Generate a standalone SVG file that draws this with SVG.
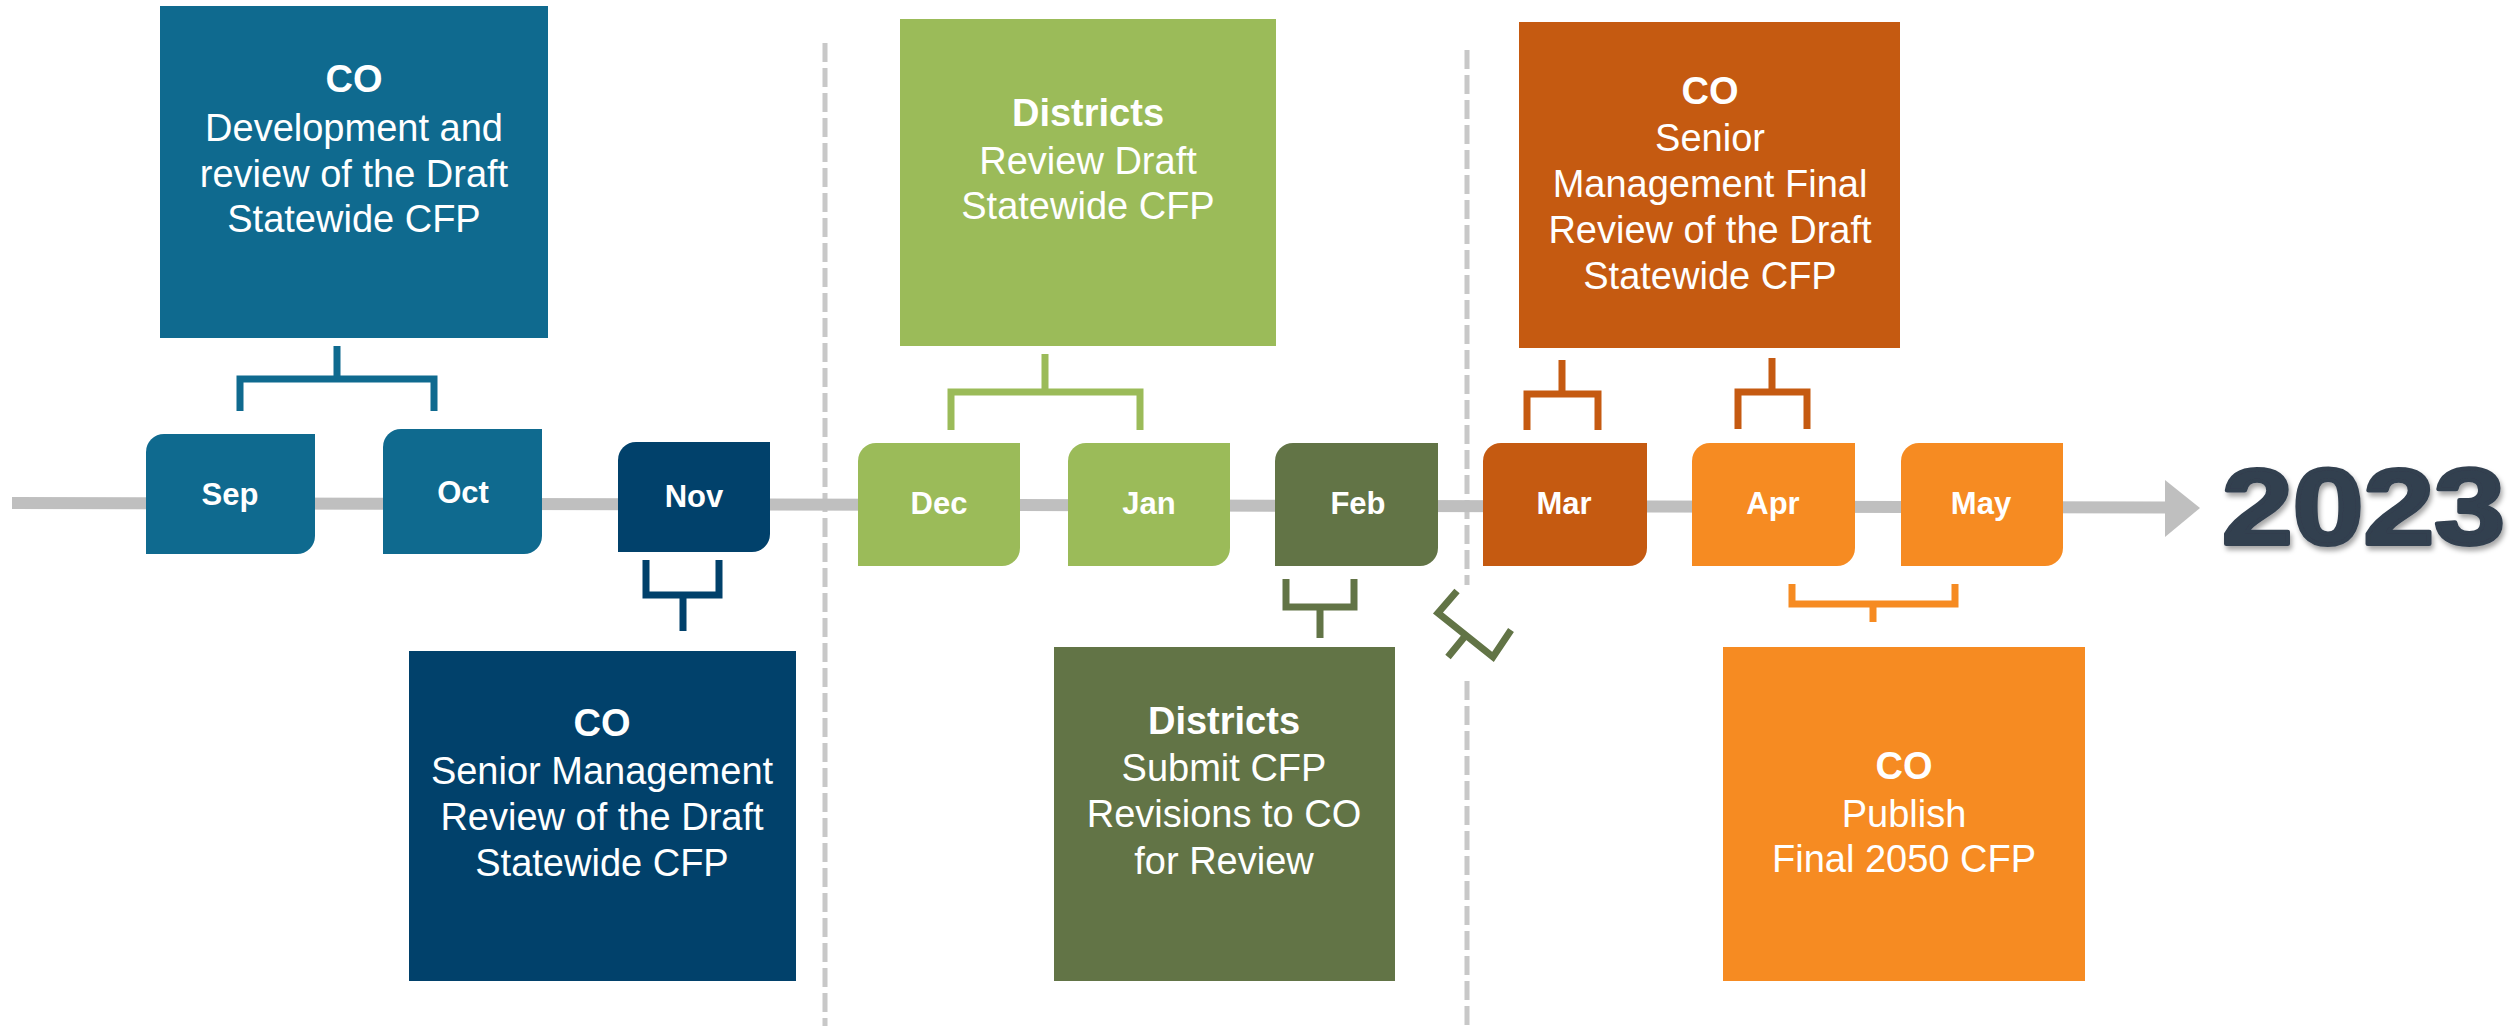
<svg xmlns="http://www.w3.org/2000/svg" width="2517" height="1026" viewBox="0 0 2517 1026">
<defs>
<style>
.box{stroke:none}
.t{font-family:"Liberation Sans",Arial,sans-serif;fill:#ffffff;text-anchor:middle;font-size:38px}
.b{font-weight:bold}
.m{font-family:"Liberation Sans",Arial,sans-serif;fill:#ffffff;text-anchor:middle;font-size:31px;font-weight:bold}
.br{fill:none;stroke-width:7;stroke-linejoin:miter;stroke-linecap:butt}
.dash{stroke:#c8c8c8;stroke-width:5;stroke-dasharray:19 6;fill:none}
.blue{fill:#0f6a8f}
.navy{fill:#01416b}
.lg{fill:#9bbb59}
.dg{fill:#627446}
.do{fill:#c55a11}
.or{fill:#f68b22}
</style>
<filter id="sh" x="-10%" y="-20%" width="120%" height="150%">
<feDropShadow dx="2" dy="4" stdDeviation="2.5" flood-color="#000000" flood-opacity="0.35"/>
</filter>
</defs>
<rect width="2517" height="1026" fill="#ffffff"/>

<g id="dividers">
<line class="dash" x1="825" y1="43" x2="825" y2="1026"/>
<line class="dash" x1="1467" y1="50" x2="1467" y2="585"/>
<line class="dash" x1="1467" y1="681" x2="1467" y2="1026"/>
</g>

<g id="timeline">
<line x1="12" y1="503" x2="2168" y2="507.5" stroke="#bfbfbf" stroke-width="12"/>
<polygon points="2165,480 2200,508 2165,537" fill="#bfbfbf"/>
</g>

<g id="connectors">
<path class="br" stroke="#0f6a8f" d="M240,411 V379 H434 V411 M337,379 V346"/>
<path class="br" stroke="#01416b" d="M646,560 V595 H719 V560 M683,595 V631"/>
<path class="br" stroke="#9bbb59" d="M951,430 V392 H1140 V430 M1045,392 V354"/>
<path class="br" stroke="#627446" d="M1286,579 V607 H1354 V579 M1320,607 V638"/>
<path class="br" stroke="#627446" d="M1457,591 L1438,613 L1493,657 L1511,630 M1466,635 L1448,657"/>
<path class="br" stroke="#c55a11" d="M1527,430 V394 H1598 V430 M1562,394 V360"/>
<path class="br" stroke="#c55a11" d="M1738,429 V392 H1807 V429 M1772,392 V358"/>
<path class="br" stroke="#f68b22" d="M1792,584 V604 H1955 V584 M1873,604 V622"/>
</g>

<g id="box-co-dev">
<rect class="box blue" x="160" y="6" width="388" height="332"/>
<text class="t b" x="354" y="92">CO</text>
<text class="t" x="354" y="141">Development and</text>
<text class="t" x="354" y="187">review of the Draft</text>
<text class="t" x="354" y="232">Statewide CFP</text>
</g>

<g id="box-co-senior">
<rect class="box navy" x="409" y="651" width="387" height="330"/>
<text class="t b" x="602" y="736">CO</text>
<text class="t" x="602" y="784">Senior Management</text>
<text class="t" x="602" y="830">Review of the Draft</text>
<text class="t" x="602" y="876">Statewide CFP</text>
</g>

<g id="box-districts-review">
<rect class="box lg" x="900" y="19" width="376" height="327"/>
<text class="t b" x="1088" y="126">Districts</text>
<text class="t" x="1088" y="174">Review Draft</text>
<text class="t" x="1088" y="219">Statewide CFP</text>
</g>

<g id="box-districts-submit">
<rect class="box dg" x="1054" y="647" width="341" height="334"/>
<text class="t b" x="1224" y="734">Districts</text>
<text class="t" x="1224" y="781">Submit CFP</text>
<text class="t" x="1224" y="827">Revisions to CO</text>
<text class="t" x="1224" y="874">for Review</text>
</g>

<g id="box-co-final">
<rect class="box do" x="1519" y="22" width="381" height="326"/>
<text class="t b" x="1710" y="104">CO</text>
<text class="t" x="1710" y="151">Senior</text>
<text class="t" x="1710" y="197">Management Final</text>
<text class="t" x="1710" y="243">Review of the Draft</text>
<text class="t" x="1710" y="289">Statewide CFP</text>
</g>

<g id="box-co-publish">
<rect class="box or" x="1723" y="647" width="362" height="334"/>
<text class="t b" x="1904" y="779">CO</text>
<text class="t" x="1904" y="827">Publish</text>
<text class="t" x="1904" y="872">Final 2050 CFP</text>
</g>

<g id="tab-sep">
<path class="blue" d="M146,452 A18,18 0 0 1 164,434 H315 V536 A18,18 0 0 1 297,554 H146 Z"/>
<text class="m" x="230" y="505">Sep</text>
</g>
<g id="tab-oct">
<path class="blue" d="M383,447 A18,18 0 0 1 401,429 H542 V536 A18,18 0 0 1 524,554 H383 Z"/>
<text class="m" x="463" y="503">Oct</text>
</g>
<g id="tab-nov">
<path class="navy" d="M618,460 A18,18 0 0 1 636,442 H770 V534 A18,18 0 0 1 752,552 H618 Z"/>
<text class="m" x="694" y="507">Nov</text>
</g>
<g id="tab-dec">
<path class="lg" d="M858,461 A18,18 0 0 1 876,443 H1020 V548 A18,18 0 0 1 1002,566 H858 Z"/>
<text class="m" x="939" y="514">Dec</text>
</g>
<g id="tab-jan">
<path class="lg" d="M1068,461 A18,18 0 0 1 1086,443 H1230 V548 A18,18 0 0 1 1212,566 H1068 Z"/>
<text class="m" x="1149" y="514">Jan</text>
</g>
<g id="tab-feb">
<path class="dg" d="M1275,461 A18,18 0 0 1 1293,443 H1438 V548 A18,18 0 0 1 1420,566 H1275 Z"/>
<text class="m" x="1358" y="514">Feb</text>
</g>
<g id="tab-mar">
<path class="do" d="M1483,461 A18,18 0 0 1 1501,443 H1647 V548 A18,18 0 0 1 1629,566 H1483 Z"/>
<text class="m" x="1564" y="514">Mar</text>
</g>
<g id="tab-apr">
<path class="or" d="M1692,461 A18,18 0 0 1 1710,443 H1855 V548 A18,18 0 0 1 1837,566 H1692 Z"/>
<text class="m" x="1773" y="514">Apr</text>
</g>
<g id="tab-may">
<path class="or" d="M1901,461 A18,18 0 0 1 1919,443 H2063 V548 A18,18 0 0 1 2045,566 H1901 Z"/>
<text class="m" x="1981" y="514">May</text>
</g>

<g id="year">
<text x="2222" y="544" font-family="'Liberation Sans',Arial,sans-serif" font-weight="bold" font-size="107" fill="#323f4f" stroke="#323f4f" stroke-width="4" stroke-linejoin="round" textLength="283" lengthAdjust="spacingAndGlyphs" filter="url(#sh)">2023</text>
</g>
</svg>
